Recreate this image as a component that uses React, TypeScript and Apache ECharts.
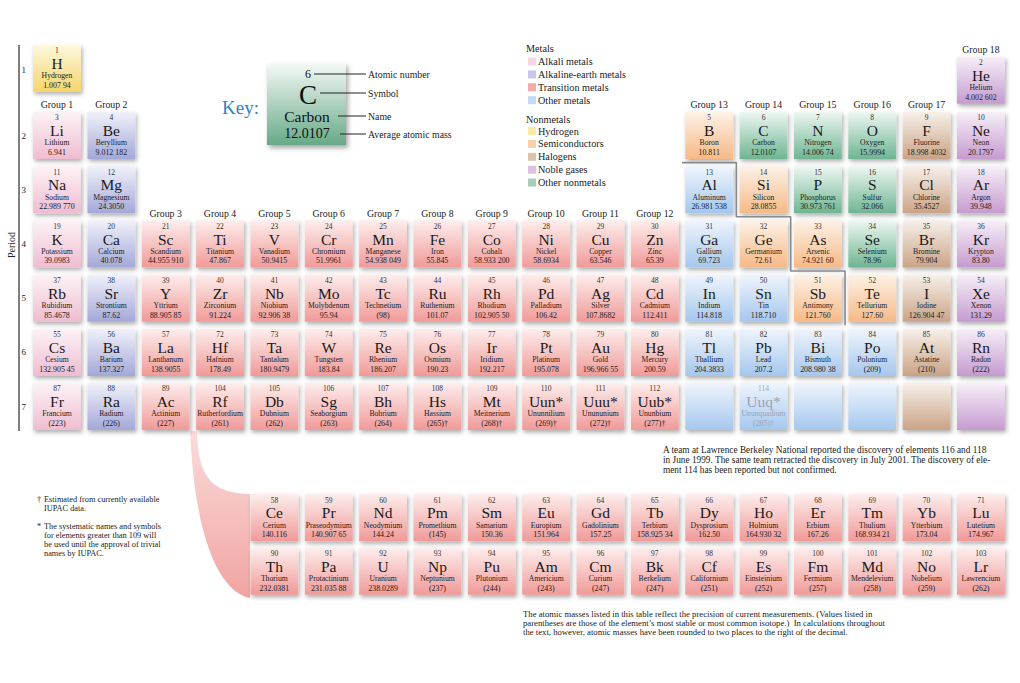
import React, { useEffect, useRef } from "react";
import * as echarts from "echarts";

const SERIF = "'Liberation Serif', 'DejaVu Serif', serif";

// ---------- DATA ----------
const SYMBOLS = [
  "H","He","Li","Be","B","C","N","O","F","Ne","Na","Mg","Al","Si","P","S","Cl","Ar",
  "K","Ca","Sc","Ti","V","Cr","Mn","Fe","Co","Ni","Cu","Zn","Ga","Ge","As","Se","Br","Kr",
  "Rb","Sr","Y","Zr","Nb","Mo","Tc","Ru","Rh","Pd","Ag","Cd","In","Sn","Sb","Te","I","Xe",
  "Cs","Ba","La","Ce","Pr","Nd","Pm","Sm","Eu","Gd","Tb","Dy","Ho","Er","Tm","Yb","Lu",
  "Hf","Ta","W","Re","Os","Ir","Pt","Au","Hg","Tl","Pb","Bi","Po","At","Rn",
  "Fr","Ra","Ac","Th","Pa","U","Np","Pu","Am","Cm","Bk","Cf","Es","Fm","Md","No","Lr",
  "Rf","Db","Sg","Bh","Hs","Mt","Uun*","Uuu*","Uub*","","Uuq*","","","",""
];
const NAMES = [
  "Hydrogen","Helium","Lithium","Beryllium","Boron","Carbon","Nitrogen","Oxygen","Fluorine","Neon",
  "Sodium","Magnesium","Aluminum","Silicon","Phosphorus","Sulfur","Chlorine","Argon",
  "Potassium","Calcium","Scandium","Titanium","Vanadium","Chromium","Manganese","Iron","Cobalt","Nickel","Copper","Zinc",
  "Gallium","Germanium","Arsenic","Selenium","Bromine","Krypton",
  "Rubidium","Strontium","Yttrium","Zirconium","Niobium","Molybdenum","Technetium","Ruthenium","Rhodium","Palladium","Silver","Cadmium",
  "Indium","Tin","Antimony","Tellurium","Iodine","Xenon",
  "Cesium","Barium","Lanthanum","Cerium","Praseodymium","Neodymium","Promethium","Samarium","Europium","Gadolinium","Terbium",
  "Dysprosium","Holmium","Erbium","Thulium","Ytterbium","Lutetium",
  "Hafnium","Tantalum","Tungsten","Rhenium","Osmium","Iridium","Platinum","Gold","Mercury",
  "Thallium","Lead","Bismuth","Polonium","Astatine","Radon",
  "Francium","Radium","Actinium","Thorium","Protactinium","Uranium","Neptunium","Plutonium","Americium","Curium","Berkelium",
  "Californium","Einsteinium","Fermium","Mendelevium","Nobelium","Lawrencium",
  "Rutherfordium","Dubnium","Seaborgium","Bohrium","Hassium","Meitnerium","Ununnilium","Unununium","Ununbium",
  "","Ununquadium","","","",""
];
const MASSES = [
  "1.007 94","4.002 602","6.941","9.012 182","10.811","12.0107","14.006 74","15.9994","18.998 4032","20.1797",
  "22.989 770","24.3050","26.981 538","28.0855","30.973 761","32.066","35.4527","39.948",
  "39.0983","40.078","44.955 910","47.867","50.9415","51.9961","54.938 049","55.845","58.933 200","58.6934","63.546","65.39",
  "69.723","72.61","74.921 60","78.96","79.904","83.80",
  "85.4678","87.62","88.905 85","91.224","92.906 38","95.94","(98)","101.07","102.905 50","106.42","107.8682","112.411",
  "114.818","118.710","121.760","127.60","126.904 47","131.29",
  "132.905 45","137.327","138.9055","140.116","140.907 65","144.24","(145)","150.36","151.964","157.25","158.925 34",
  "162.50","164.930 32","167.26","168.934 21","173.04","174.967",
  "178.49","180.9479","183.84","186.207","190.23","192.217","195.078","196.966 55","200.59",
  "204.3833","207.2","208.980 38","(209)","(210)","(222)",
  "(223)","(226)","(227)","232.0381","231.035 88","238.0289","(237)","(244)","(243)","(247)","(247)",
  "(251)","(252)","(257)","(258)","(259)","(262)",
  "(261)","(262)","(263)","(264)","(265)\u2020","(268)\u2020","(269)\u2020","(272)\u2020","(277)\u2020",
  "","(285)\u2020","","","",""
];
// hy hydrogen, ng noble gas, al alkali, ae alkaline-earth, sc semiconductor,
// nm other nonmetal, ha halogen, om other metal, tm transition metal
const CATEGORIES = [
  "hy","ng",
  "al","ae","sc","nm","nm","nm","ha","ng",
  "al","ae","om","sc","nm","nm","ha","ng",
  "al","ae","tm","tm","tm","tm","tm","tm","tm","tm","tm","tm","om","sc","sc","nm","ha","ng",
  "al","ae","tm","tm","tm","tm","tm","tm","tm","tm","tm","tm","om","om","sc","sc","ha","ng",
  "al","ae","tm","tm","tm","tm","tm","tm","tm","tm","tm","tm","tm","tm","tm","tm","tm",
  "tm","tm","tm","tm","tm","tm","tm","tm","tm","om","om","om","om","ha","ng",
  "al","ae","tm","tm","tm","tm","tm","tm","tm","tm","tm","tm","tm","tm","tm","tm","tm",
  "tm","tm","tm","tm","tm","tm","tm","tm","tm","om","om","om","om","ha","ng"
];
const FADED = [114];
const GROUP_LABELS = Array.from({ length: 18 }, (_, i) => "Group " + (i + 1));
const PERIOD_LABELS = ["1","2","3","4","5","6","7"];
const PERIOD_ENDS = [2, 10, 18, 36, 54, 86, 118];
// metal / nonmetal staircase (between columns, between rows)
const STAIR = [[12.5,2.5],[13.5,2.5],[13.5,3.5],[14.5,3.5],[14.5,4.5],[15.5,4.5],[15.5,5.5]];

const LEGEND_METALS = [["al","Alkali metals"],["ae","Alkaline-earth metals"],["tm","Transition metals"],["om","Other metals"]];
const LEGEND_NONMETALS = [["hy","Hydrogen"],["sc","Semiconductors"],["ha","Halogens"],["ng","Noble gases"],["nm","Other nonmetals"]];

// ---------- STYLE ----------
const COLORS: Record<string, { top: string; bottom: string; swatch: string }> = {
  al: { top: "#fdf3f6", bottom: "#efbcd0", swatch: "#f7d6e1" },
  ae: { top: "#f1f1fa", bottom: "#a3a8d8", swatch: "#c7c8e9" },
  tm: { top: "#fdeeed", bottom: "#f09a98", swatch: "#f4aba8" },
  om: { top: "#eff5fc", bottom: "#a5c7ee", swatch: "#c3daf5" },
  hy: { top: "#fdf8e0", bottom: "#f6d56a", swatch: "#fbe9a6" },
  sc: { top: "#fdf2e7", bottom: "#f6b986", swatch: "#f9d0a9" },
  ha: { top: "#f7f0ea", bottom: "#caa386", swatch: "#ddc3ae" },
  ng: { top: "#f7eff8", bottom: "#c59bcf", swatch: "#dcc1e3" },
  nm: { top: "#eef7f2", bottom: "#6db592", swatch: "#a5cfba" },
};
const H_ROW = 0.76, HE_ROW = 0.98, LANTH_ROW = 9.05, ACTIN_ROW = 10.04;

function placement(z: number): [number, number] {
  const p = PERIOD_ENDS.findIndex((e) => z <= e) + 1;
  const start = p === 1 ? 1 : PERIOD_ENDS[p - 2] + 1;
  const k = z - start;
  if (p === 1) return z === 1 ? [1, H_ROW] : [18, HE_ROW];
  if (p <= 3) return [k < 2 ? k + 1 : k + 11, p];
  if (p <= 5) return [k + 1, p];
  if (k < 3) return [k + 1, p];
  if (k < 17) return [k + 2, p === 6 ? LANTH_ROW : ACTIN_ROW];
  return [k - 13, p];
}

const CELLS = CATEGORIES.map((_, i) => {
  const [c, r] = placement(i + 1);
  return [c, r, i];
});

function groupTopRow(g: number) {
  if (g === 1) return 2;
  let m = 99;
  CELLS.forEach(([c, r]) => { if (c === g && r < 9 && r < m) m = r; });
  return m;
}
const GROUP_DATA = GROUP_LABELS.map((_, i) => [i + 1, groupTopRow(i + 1), i]);
const PERIOD_DATA = PERIOD_LABELS.map((_, i) => [0.5, i === 0 ? 0.79 : i + 1, i]);

function grad(top: string, bottom: string) {
  return new echarts.graphic.LinearGradient(0, 0, 0, 1, [
    { offset: 0, color: top },
    { offset: 1, color: bottom },
  ]);
}

let registered = false;
function registerShapes() {
  if (registered) return;
  registered = true;
  const d = "M190,431 L197,431 C198,478 212,493 250,494 L250,598 C228,594 196,560 190,431 Z";
  echarts.graphic.registerShape("lnConnector", echarts.graphic.extendPath(d, {}));
}

function txt(x: number, y: number, text: string, size: number, fill = "#222", align = "left", extra: any = {}) {
  return {
    type: "text",
    x, y,
    style: { text, fontSize: size, lineHeight: size, fontFamily: SERIF, fill, align, verticalAlign: "middle" },
    ...extra,
  };
}

function buildGraphic() {
  const g: any[] = [];
  g.push({
    type: "lnConnector", x: 0, y: 0, z: -1,
    style: { fill: grad("#fadcdb", "#f1a4a2") },
  });
  g.push({ type: "line", shape: { x1: 19, y1: 45, x2: 19, y2: 431 }, style: { stroke: "#555", lineWidth: 1.5 } });
  g.push(txt(11, 245, "Period", 10, "#222", "center", { rotation: Math.PI / 2 }));
  g.push(txt(222, 107, "Key:", 19, "#2f82c4"));
  g.push({
    type: "rect", shape: { x: 267, y: 63, width: 79, height: 82 },
    style: { fill: grad("#f5faf7", "#67a987"), shadowBlur: 5, shadowOffsetX: 2, shadowOffsetY: 3, shadowColor: "rgba(0,0,0,0.35)" },
  });
  g.push(txt(308, 73.5, "6", 12, "#111", "center"));
  g.push(txt(308, 95, "C", 27, "#111", "center"));
  g.push(txt(307, 116.5, "Carbon", 15.5, "#111", "center"));
  g.push(txt(307, 133.5, "12.0107", 14, "#111", "center"));
  const keyLines = [[314, 74, "Atomic number"], [320, 93, "Symbol"], [338, 116, "Name"], [340, 134, "Average atomic mass"]];
  keyLines.forEach(([x1, y, label]: any) => {
    g.push({ type: "line", shape: { x1, y1: y, x2: 366, y2: y }, style: { stroke: "#222", lineWidth: 1 } });
    g.push(txt(368, y, label, 9.8, "#222"));
  });
  g.push(txt(526, 48, "Metals", 10.2, "#222"));
  LEGEND_METALS.forEach(([k, label], i) => {
    const y = 61.5 + i * 12.9;
    g.push({ type: "rect", shape: { x: 528, y: y - 4, width: 8, height: 8 }, style: { fill: COLORS[k].swatch } });
    g.push(txt(538, y, label, 10.2, "#222"));
  });
  g.push(txt(526, 119, "Nonmetals", 10.2, "#222"));
  LEGEND_NONMETALS.forEach(([k, label], i) => {
    const y = 131 + i * 12.9;
    g.push({ type: "rect", shape: { x: 528, y: y - 4, width: 8, height: 8 }, style: { fill: COLORS[k].swatch } });
    g.push(txt(538, y, label, 10.2, "#222"));
  });
  g.push(txt(37, 499, "\u2020", 8.3));
  g.push(txt(44, 499, "Estimated from currently available", 8.3));
  g.push(txt(44, 508.5, "IUPAC data.", 8.3));
  g.push(txt(37, 526.5, "*", 8.3));
  g.push(txt(44, 526.5, "The systematic names and symbols", 8.3));
  g.push(txt(44, 535.5, "for elements greater than 109 will", 8.3));
  g.push(txt(44, 544.5, "be used until the approval of trivial", 8.3));
  g.push(txt(44, 553.5, "names by IUPAC.", 8.3));
  g.push(txt(663, 449.5, "A team at Lawrence Berkeley National reported the discovery of elements 116 and 118", 9.3));
  g.push(txt(663, 459.5, "in June 1999. The same team retracted the discovery in July 2001. The discovery of ele-", 9.3));
  g.push(txt(663, 469.5, "ment 114 has been reported but not confirmed.", 9.3));
  g.push(txt(523, 613.5, "The atomic masses listed in this table reflect the precision of current measurements. (Values listed in", 8.7));
  g.push(txt(523, 622.5, "parentheses are those of the element\u2019s most stable or most common isotope.)  In calculations throughout", 8.7));
  g.push(txt(523, 631.5, "the text, however, atomic masses have been rounded to two places to the right of the decimal.", 8.7));
  return g;
}

export default function App() {
  const ref = useRef<HTMLDivElement>(null);
  useEffect(() => {
    if (!ref.current) return;
    registerShapes();
    const chart = echarts.init(ref.current, null, { renderer: "svg" });
    const option: any = {
      animation: false,
      backgroundColor: "#ffffff",
      grid: { left: 29.8, top: 27.1, width: 978.3, height: 596.2 },
      xAxis: { type: "value", min: 0.5, max: 18.5, show: false },
      yAxis: { type: "value", min: 0, max: 11, inverse: true, show: false },
      graphic: buildGraphic(),
      series: [
        {
          type: "custom",
          name: "elements",
          clip: false,
          encode: { x: 0, y: 1 },
          data: CELLS,
          renderItem: (params: any, api: any) => {
            const i = api.value(2);
            const [cx, cy] = api.coord([api.value(0), api.value(1)]);
            const [sw, sh] = api.size([1, 1]);
            const w = sw * 0.88, h = sh * 0.87;
            const top = cy - h / 2;
            const col = COLORS[CATEGORIES[i]] || COLORS.tm;
            const z = i + 1;
            const faded = FADED.includes(z);
            const ink = faded ? "#9aa3b3" : "#1a1a1a";
            const children: any[] = [
              {
                type: "rect",
                shape: { x: cx - w / 2, y: top, width: w, height: h },
                style: {
                  fill: grad(col.top, col.bottom),
                  shadowBlur: 4, shadowOffsetX: 1.5, shadowOffsetY: 2.5,
                  shadowColor: "rgba(0,0,0,0.32)",
                },
              },
            ];
            if (SYMBOLS[i]) {
              children.push(txt(cx, top + 6, String(z), 7.5, faded ? ink : "#333", "center"));
              children.push(txt(cx, top + 18.7, SYMBOLS[i], 15.5, ink, "center"));
              children.push(txt(cx, top + 31, NAMES[i], 7.7, faded ? ink : "#222", "center"));
              children.push(txt(cx, top + 40.5, MASSES[i], 7.9, faded ? ink : "#222", "center"));
            }
            return { type: "group", children };
          },
        },
        {
          type: "custom",
          name: "groups",
          clip: false,
          encode: { x: 0, y: 1 },
          data: GROUP_DATA,
          renderItem: (params: any, api: any) => {
            const [cx, cy] = api.coord([api.value(0), api.value(1)]);
            const sh = api.size([1, 1])[1];
            return txt(cx, cy - sh * 0.435 - 7, GROUP_LABELS[api.value(2)], 9.8, "#222", "center");
          },
        },
        {
          type: "custom",
          name: "periods",
          clip: false,
          encode: { x: 0, y: 1 },
          data: PERIOD_DATA,
          renderItem: (params: any, api: any) => {
            const [cx, cy] = api.coord([api.value(0), api.value(1)]);
            return txt(cx - 6, cy, PERIOD_LABELS[api.value(2)], 9, "#222", "center");
          },
        },
        {
          type: "line",
          name: "stair",
          data: STAIR,
          symbol: "none",
          silent: true,
          z: 5,
          lineStyle: { color: "#8a8a8a", width: 1.6 },
        },
      ],
    };
    chart.setOption(option);
    return () => chart.dispose();
  }, []);
  return <div ref={ref} style={{ position: "absolute", left: 0, top: 0, width: 1020, height: 683 }} />;
}
